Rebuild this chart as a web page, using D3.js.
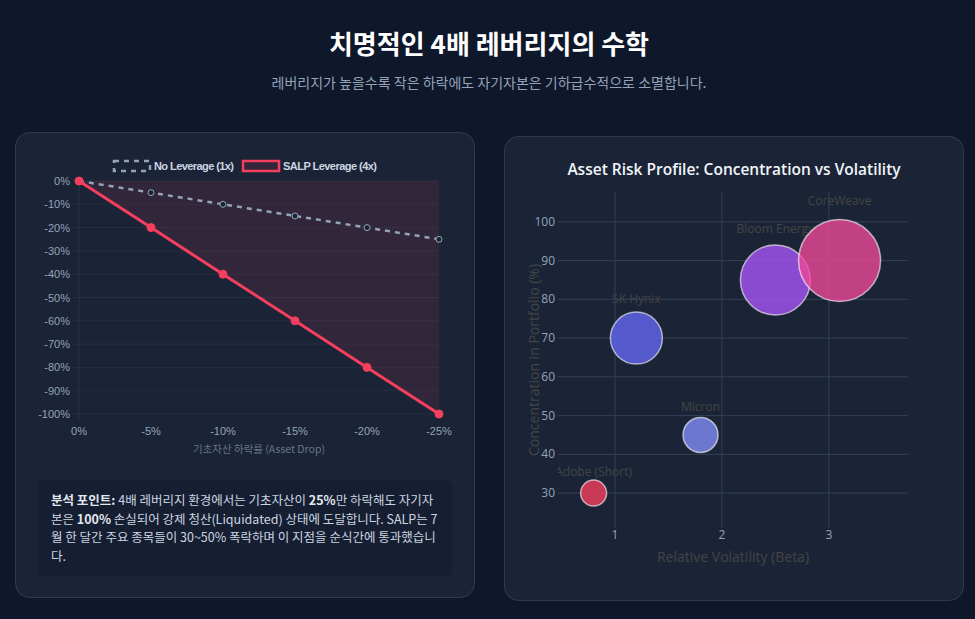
<!DOCTYPE html>
<html><head><meta charset="utf-8">
<script src="https://cdn.jsdelivr.net/npm/d3@7"></script>
<style>
html,body{margin:0;padding:0;background:#0f172a;}
svg{display:block;}
</style></head>
<body>
<svg id="c" width="975" height="619"></svg>
<script>
// ---------- data ----------
const assetDrops = ["0%","-5%","-10%","-15%","-20%","-25%"];
const noLeverage = [0,-5,-10,-15,-20,-25];
const salpLeverage = [0,-20,-40,-60,-80,-100];
const lineYTicks = [0,-10,-20,-30,-40,-50,-60,-70,-80,-90,-100];

const assets = ["Adobe (Short)","SK Hynix","Micron","Bloom Energy","CoreWeave"];
const beta = [0.8,1.2,1.8,2.5,3.1];
const concentration = [30,70,45,85,90];
const bubbleSize = [26,52,35,70,82];
const bubbleColors = ["#f43f5e","#6366f1","#818cf8","#a855f7","#ec4899"];
const bubbleXTicks = [1,2,3];
const bubbleYTicks = [30,40,50,60,70,80,90,100];

const svg = d3.select("#c");
const KR = "'Noto Sans CJK KR','Noto Sans',sans-serif";
const ARIAL = "'Liberation Sans',Arial,'Noto Sans CJK KR',sans-serif";
const OPEN = "'Open Sans','Noto Sans',sans-serif";

svg.append("rect").attr("width",975).attr("height",619).attr("fill","#0f172a");

// header
svg.append("text").attr("x",489).attr("y",54).attr("text-anchor","middle")
  .attr("font-family",KR).attr("font-weight",700).attr("font-size",26).attr("fill","#ffffff")
  .text("치명적인 4배 레버리지의 수학");
svg.append("text").attr("x",489).attr("y",88).attr("text-anchor","middle")
  .attr("font-family",KR).attr("font-size",14).attr("fill","#94a3b8")
  .text("레버리지가 높을수록 작은 하락에도 자기자본은 기하급수적으로 소멸합니다.");

// cards
function card(x,y,w,h){
  svg.append("rect").attr("x",x).attr("y",y).attr("width",w).attr("height",h).attr("rx",14)
    .attr("fill","#1b2436").attr("stroke","rgba(148,163,184,0.22)").attr("stroke-width",1);
}
card(15.5,132.5,459,465);
card(504.5,136.5,459,464);

// ---------- left chart ----------
const L = svg.append("g");
const x1 = d3.scalePoint().domain(assetDrops).range([79,439]);
const y1 = d3.scaleLinear().domain([-100,0]).range([414,181]);

// grid
L.append("g").selectAll("line").data(lineYTicks).join("line")
  .attr("x1",73).attr("x2",439).attr("y1",d=>y1(d)).attr("y2",d=>y1(d))
  .attr("stroke","rgba(255,255,255,0.05)");
L.append("line").attr("x1",79).attr("x2",79).attr("y1",181).attr("y2",420)
  .attr("stroke","rgba(255,255,255,0.06)");

// fill area between SALP line and 0
const area = d3.area().x((d,i)=>x1(assetDrops[i])).y0(y1(0)).y1(d=>y1(d));
L.append("path").datum(salpLeverage).attr("d",area).attr("fill","rgba(244,63,94,0.1)");

// y ticks
L.append("g").selectAll("text").data(lineYTicks).join("text")
  .attr("x",70).attr("y",d=>y1(d)+4).attr("text-anchor","end")
  .attr("font-family",ARIAL).attr("font-size",11).attr("fill","#94a3b8")
  .text(d=>d+"%");
// x ticks
L.append("g").selectAll("text").data(assetDrops).join("text")
  .attr("x",d=>x1(d)).attr("y",435).attr("text-anchor","middle")
  .attr("font-family",ARIAL).attr("font-size",11).attr("fill","#94a3b8")
  .text(d=>d);
L.append("text").attr("x",259).attr("y",453).attr("text-anchor","middle")
  .attr("font-family",KR).attr("font-size",10.5).attr("fill","#64748b")
  .text("기초자산 하락률 (Asset Drop)");

const line = d3.line().x((d,i)=>x1(assetDrops[i])).y(d=>y1(d));
// no leverage dashed
L.append("path").datum(noLeverage).attr("d",line).attr("fill","none")
  .attr("stroke","#94a3b8").attr("stroke-width",2.5).attr("stroke-dasharray","5,5");
L.append("g").selectAll("circle").data(noLeverage).join("circle")
  .attr("cx",(d,i)=>x1(assetDrops[i])).attr("cy",d=>y1(d)).attr("r",3)
  .attr("fill","#1b2436").attr("stroke","#94a3b8").attr("stroke-width",1);
// SALP
L.append("path").datum(salpLeverage).attr("d",line).attr("fill","none")
  .attr("stroke","#f43f5e").attr("stroke-width",3);
L.append("g").selectAll("circle").data(salpLeverage).join("circle")
  .attr("cx",(d,i)=>x1(assetDrops[i])).attr("cy",d=>y1(d)).attr("r",4)
  .attr("fill","#f43f5e").attr("stroke","#f43f5e").attr("stroke-width",1);

// legend
L.append("rect").attr("x",114).attr("y",161).attr("width",36).attr("height",10)
  .attr("fill","none").attr("stroke","#94a3b8").attr("stroke-width",2.5).attr("stroke-dasharray","5,5");
L.append("text").attr("x",154).attr("y",170).attr("font-family",ARIAL).attr("font-size",11)
  .attr("font-weight",700).attr("fill","#cbd5e1").attr("textLength",80).text("No Leverage (1x)");
L.append("rect").attr("x",243).attr("y",161).attr("width",36).attr("height",10)
  .attr("fill","rgba(244,63,94,0.1)").attr("stroke","#f43f5e").attr("stroke-width",2.5);
L.append("text").attr("x",283).attr("y",170).attr("font-family",ARIAL).attr("font-size",11)
  .attr("font-weight",700).attr("fill","#cbd5e1").attr("textLength",94).text("SALP Leverage (4x)");

// note box
svg.append("rect").attr("x",38).attr("y",480).attr("width",414).attr("height",96).attr("rx",6)
  .attr("fill","rgba(15,23,42,0.35)");
const noteLines = [
  [["분석 포인트:",1],[" 4배 레버리지 환경에서는 기초자산이 ",0],["25%",1],["만 하락해도 자기자",0]],
  [["본은 ",0],["100%",1],[" 손실되어 강제 청산(Liquidated) 상태에 도달합니다. SALP는 7",0]],
  [["월 한 달간 주요 종목들이 30~50% 폭락하며 이 지점을 순식간에 통과했습니",0]],
  [["다.",0]]
];
noteLines.forEach((ln,i)=>{
  const t = svg.append("text").attr("x",51).attr("y",505+i*18.5)
    .attr("font-family",KR).attr("font-size",12.5).attr("fill","#cbd5e1");
  ln.forEach(([s,b])=>t.append("tspan").attr("font-weight",b?700:400)
    .attr("fill",b?"#e2e8f0":"#cbd5e1").text(s));
});

// ---------- right chart ----------
const R = svg.append("g");
const x2 = d3.scaleLinear().domain([0.467,3.74]).range([558,908]);
const y2 = d3.scaleLinear().domain([21,107.7]).range([528,192]);
const rS = d3.scaleLinear().domain([0,100]).range([0,50]);

R.append("text").attr("x",734).attr("y",175).attr("text-anchor","middle")
  .attr("font-family",OPEN).attr("font-size",15.5).attr("font-weight",600).attr("fill","#f1f5f9")
  .text("Asset Risk Profile: Concentration vs Volatility");

R.append("g").selectAll("line").data(bubbleXTicks).join("line")
  .attr("x1",d=>x2(d)).attr("x2",d=>x2(d)).attr("y1",192).attr("y2",528)
  .attr("stroke","#334155").attr("stroke-width",1);
R.append("g").selectAll("line").data(bubbleYTicks).join("line")
  .attr("x1",558).attr("x2",908).attr("y1",d=>y2(d)).attr("y2",d=>y2(d))
  .attr("stroke","#334155").attr("stroke-width",1);

R.append("g").selectAll("text").data(bubbleXTicks).join("text")
  .attr("x",d=>x2(d)).attr("y",539).attr("text-anchor","middle")
  .attr("font-family",OPEN).attr("font-size",12).attr("fill","#94a3b8").text(d=>d);
R.append("g").selectAll("text").data(bubbleYTicks).join("text")
  .attr("x",555).attr("y",d=>y2(d)+4).attr("text-anchor","end")
  .attr("font-family",OPEN).attr("font-size",12).attr("fill","#94a3b8").text(d=>d);

R.append("text").attr("x",733).attr("y",562).attr("text-anchor","middle")
  .attr("font-family",OPEN).attr("font-size",14).attr("fill","#444").text("Relative Volatility (Beta)");
R.append("text").attr("transform","translate(539,360) rotate(-90)").attr("text-anchor","middle")
  .attr("font-family",OPEN).attr("font-size",14).attr("fill","#444").text("Concentration in Portfolio (%)");

svg.append("defs").append("clipPath").attr("id","plotclip")
  .append("rect").attr("x",558).attr("y",150).attr("width",350).attr("height",378);
const pts = R.append("g").attr("clip-path","url(#plotclip)").selectAll("g").data(assets).join("g");
pts.append("circle")
  .attr("cx",(d,i)=>x2(beta[i])).attr("cy",(d,i)=>y2(concentration[i]))
  .attr("r",(d,i)=>rS(bubbleSize[i]))
  .attr("fill",(d,i)=>bubbleColors[i]).attr("fill-opacity",0.8)
  .attr("stroke","rgba(255,255,255,0.6)").attr("stroke-width",1.5);
pts.append("text")
  .attr("x",(d,i)=>x2(beta[i]))
  .attr("y",(d,i)=>y2(concentration[i])-rS(bubbleSize[i])*1.35)
  .attr("text-anchor","middle").attr("font-family",OPEN).attr("font-size",12).attr("fill","#444")
  .text(d=>d);
</script>
</body></html>
